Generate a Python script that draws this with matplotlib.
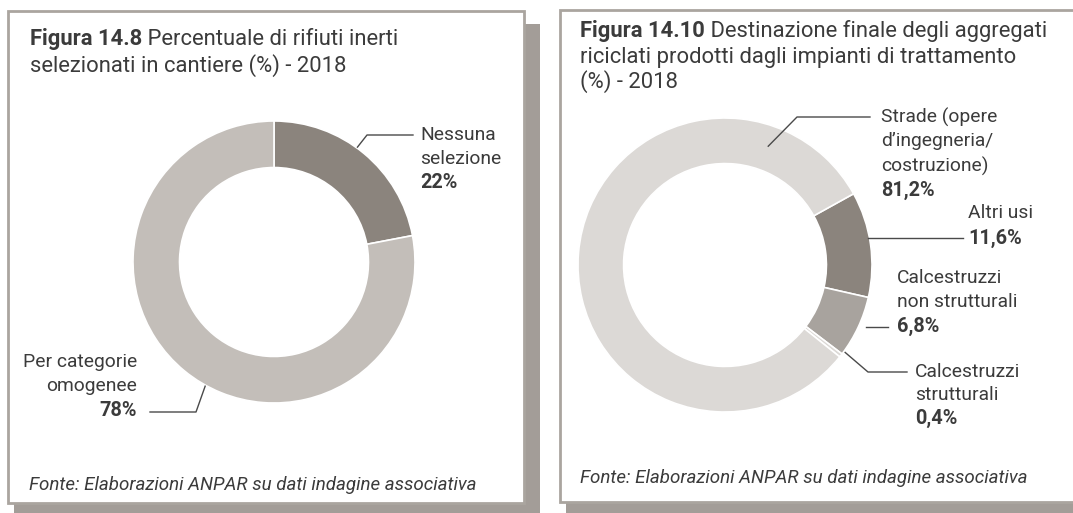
import numpy as np
import matplotlib
matplotlib.use("Agg")
import matplotlib.pyplot as plt
from matplotlib.patches import Rectangle

# ---------------- data ----------------
left_labels = ["Nessuna\nselezione", "Per categorie\nomogenee"]
left_values = [22, 78]
left_pct = ["22%", "78%"]

right_labels = ["Altri usi", "Calcestruzzi\nnon strutturali", "Calcestruzzi\nstrutturali",
                "Strade (opere\nd\u2019ingegneria/\ncostruzione)"]
right_values = [11.6, 6.8, 0.4, 81.2]
right_pct = ["11,6%", "6,8%", "0,4%", "81,2%"]

left_title_bold = "Figura 14.8"
left_title_rest = " Percentuale di rifiuti inerti"
left_title_l2 = "selezionati in cantiere (%) - 2018"
right_title_bold = "Figura 14.10"
right_title_rest = " Destinazione finale degli aggregati"
right_title_l2 = "riciclati prodotti dagli impianti di trattamento"
right_title_l3 = "(%) - 2018"
source = "Fonte: Elaborazioni ANPAR su dati indagine associativa"

# ---------------- style ----------------
FONT = "Roboto"
TXT = "#3b3b3b"
DARK = "#8b847d"
LIGHT_L = "#c3beb9"
LIGHT_R = "#dcd9d6"
MID = "#a8a39e"
BORDER = "#aaa59f"
SHADOW = "#a39d98"

W, H = 1073, 513
fig = plt.figure(figsize=(W / 100, H / 100), dpi=100)
fig.patch.set_facecolor("white")

# background layer (panels)
bg = fig.add_axes([0, 0, 1, 1])
bg.set_xlim(0, W)
bg.set_ylim(H, 0)
bg.axis("off")
bg.set_zorder(0)

# foreground layer (texts, leader lines)
ov = fig.add_axes([0, 0, 1, 1])
ov.set_xlim(0, W)
ov.set_ylim(H, 0)
ov.axis("off")
ov.set_zorder(10)
ov.patch.set_visible(False)

fig.canvas.draw()
rend = fig.canvas.get_renderer()


def fit_size(txt, target, **kw):
    t = ov.text(0, 0, txt, fontsize=10, family=FONT, **kw)
    w = t.get_window_extent(renderer=rend).width
    t.remove()
    return 10 * target / w


# panels: shadow + bordered white box
for (x0, y0, x1, y1, sx0, sy0) in [(8, 11, 524, 503, 14, 24), (560, 10, 1090, 502, 566, 24)]:
    bg.add_patch(Rectangle((sx0, sy0), x1 + 16 - sx0, y1 + 20 - sy0, facecolor=SHADOW, edgecolor="none", zorder=1))
    bg.add_patch(Rectangle((x0, y0), x1 - x0, y1 - y0, facecolor="white", edgecolor=BORDER, lw=2.0, zorder=2))


def pie_axes(cx, cy, r):
    a = fig.add_axes([(cx - r) / W, (H - cy - r) / H, 2 * r / W, 2 * r / H])
    a.set_zorder(3)
    a.patch.set_visible(False)
    return a


def finish(a):
    a.set_xlim(-1, 1)
    a.set_ylim(-1, 1)
    a.set_aspect("equal")
    a.axis("off")


def ring_pt(cx, cy, r, ang):
    t = np.deg2rad(ang)
    return cx + r * np.cos(t), cy - r * np.sin(t)


# ---------------- left donut ----------------
LCX, LCY, LR = 274, 262, 141
axl = pie_axes(LCX, LCY, LR)
axl.pie(left_values, colors=[DARK, LIGHT_L], startangle=90, counterclock=False, radius=1.0,
        wedgeprops=dict(width=0.33, edgecolor="white", linewidth=1.2))
finish(axl)

# ---------------- right donut ----------------
RCX, RCY, RR = 725, 265, 147
axr = pie_axes(RCX, RCY, RR)
axr.pie(right_values, colors=[DARK, MID, LIGHT_R, LIGHT_R], startangle=29, counterclock=False,
        radius=1.0, wedgeprops=dict(width=0.31, edgecolor="white", linewidth=1.2))
finish(axr)

LW = 1.0
LC = "#4a4a4a"

# left leader lines
x, y = ring_pt(LCX, LCY, LR + 1, 54)
ov.plot([x, 367, 413], [y, 135, 135], color=LC, lw=LW, zorder=4)
x, y = ring_pt(LCX, LCY, LR + 1, 241)
ov.plot([x, 196, 150], [y, 412, 412], color=LC, lw=LW, zorder=4)

# right leader lines
x, y = ring_pt(RCX, RCY, RR * 0.86, 70)
ov.plot([x, 797, 870], [y, 117, 117], color=LC, lw=LW, zorder=6)
x, y = ring_pt(RCX, RCY, RR + 1, 8)
ov.plot([x - 4, 963], [238, 238], color=LC, lw=LW, zorder=4)
x, y = ring_pt(RCX, RCY, RR + 1, -24)
ov.plot([x + 6, 888], [327, 327], color=LC, lw=LW, zorder=4)
x, y = ring_pt(RCX, RCY, RR, -36.5)
ov.plot([x + 2, 868, 907], [y, 372, 372], color=LC, lw=LW, zorder=4)

LFS = fit_size("Strade (opere", 116)
PFS = fit_size("81,2%", 54, fontweight="bold")


def label(x, y, name, pct, ha="left", step=24):
    lines = name.split("\n")
    for i, ln in enumerate(lines):
        ov.text(x, y + i * step, ln, ha=ha, va="center", fontsize=LFS, color=TXT, family=FONT, zorder=5)
    ov.text(x, y + len(lines) * step, pct, ha=ha, va="center", fontsize=PFS, color=TXT,
            family=FONT, fontweight="bold", zorder=5)


label(420, 135, left_labels[0], left_pct[0])
label(137, 362, left_labels[1], left_pct[1], ha="right")

label(881, 117, right_labels[3], right_pct[3], step=24.5)
label(968, 213, right_labels[0], right_pct[0], step=25)
label(897, 278, right_labels[1], right_pct[1], step=24)
label(915, 372, right_labels[2], right_pct[2], step=23)

# ---------------- titles ----------------


def title_width(bold, rest, fs):
    tb = ov.text(0, 0, bold, fontsize=fs, family=FONT, fontweight="bold")
    tr = ov.text(0, 0, rest, fontsize=fs, family=FONT)
    w = tb.get_window_extent(renderer=rend).width + tr.get_window_extent(renderer=rend).width
    tb.remove()
    tr.remove()
    return w


TFS = 10 * 368 / title_width(left_title_bold, left_title_rest, 10)


def title(x, y, bold, rest, more, step):
    tb = ov.text(x, y, bold, ha="left", va="baseline", fontsize=TFS, color=TXT, family=FONT,
                 fontweight="bold", zorder=5)
    bb = tb.get_window_extent(renderer=rend)
    ov.text(x + bb.width, y, rest, ha="left", va="baseline", fontsize=TFS, color=TXT, family=FONT, zorder=5)
    for i, ln in enumerate(more):
        ov.text(x, y + (i + 1) * step, ln, ha="left", va="baseline", fontsize=TFS, color=TXT,
                family=FONT, zorder=5)


title(30, 45, left_title_bold, left_title_rest, [left_title_l2], 27)
title(580, 37, right_title_bold, right_title_rest, [right_title_l2, right_title_l3], 25.5)

SFS = fit_size(source, 446, style="italic")
ov.text(29, 485, source, ha="left", va="center", fontsize=SFS, color=TXT, family=FONT,
        style="italic", zorder=5)
ov.text(580, 478, source, ha="left", va="center", fontsize=SFS, color=TXT, family=FONT,
        style="italic", zorder=5)

fig.savefig("out.png", dpi=100, facecolor="white")
